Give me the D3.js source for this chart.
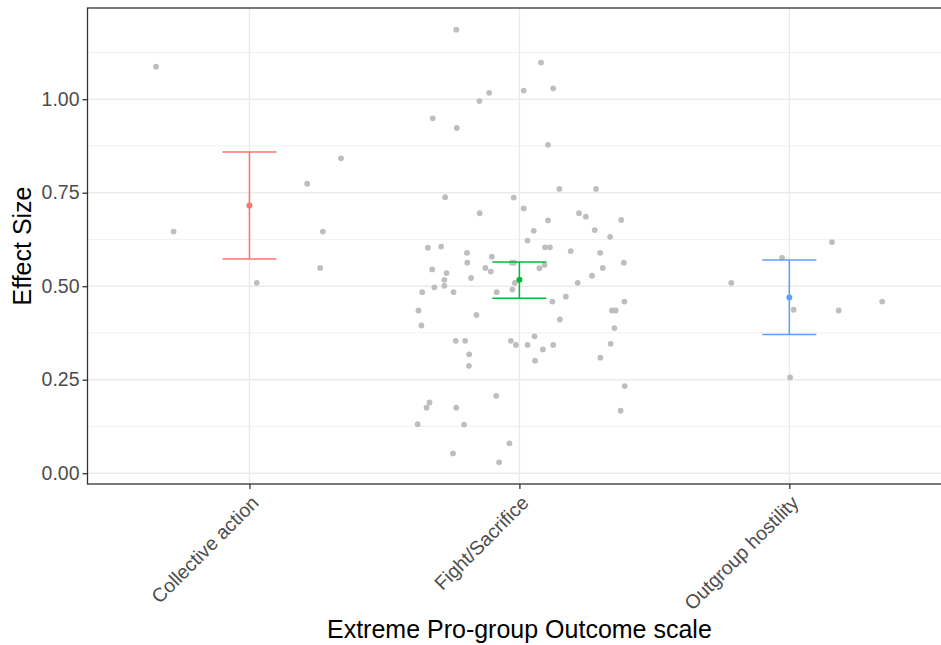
<!DOCTYPE html>
<html>
<head>
<meta charset="utf-8">
<script src="https://cdn.jsdelivr.net/npm/d3@7"></script>
<style>
  body { margin: 0; background: #fff; }
  svg { display: block; font-family: "Liberation Sans", Arial, sans-serif; }
</style>
</head>
<body>
<svg id="chart" width="941" height="645"></svg>
<script>
// categories and summary (mean + CI) per outcome scale
var categories = ["Collective action", "Fight/Sacrifice", "Outgroup hostility"];
var colors = ["#F8766D", "#00BA38", "#619CFF"];
var means = [0.716, 0.517, 0.470];
var lowers = [0.573, 0.468, 0.371];
var uppers = [0.859, 0.565, 0.570];

// raw effect sizes, with horizontal jitter (in category units)
var collectiveVals = [1.087, 0.842, 0.774, 0.646, 0.646, 0.549, 0.509];
var collectiveJit  = [-0.346, 0.339, 0.214, -0.281, 0.272, 0.262, 0.027];

var fightVals = [1.186, 1.098, 1.017, 0.995, 1.023, 1.029, 0.949, 0.923, 0.878,
  0.760, 0.760, 0.738, 0.737, 0.708, 0.695, 0.695, 0.686, 0.676, 0.677, 0.648,
  0.650, 0.632, 0.622, 0.603, 0.606, 0.604, 0.604, 0.589, 0.579, 0.594, 0.589,
  0.545, 0.535, 0.563, 0.549, 0.539, 0.563, 0.563, 0.548, 0.557, 0.549, 0.563,
  0.528, 0.509, 0.517, 0.501, 0.522, 0.497, 0.484, 0.484, 0.484, 0.509, 0.491,
  0.472, 0.459, 0.459, 0.435, 0.435, 0.435, 0.423, 0.411, 0.395, 0.388, 0.366,
  0.354, 0.354, 0.354, 0.343, 0.343, 0.343, 0.346, 0.331, 0.318, 0.309, 0.301,
  0.287, 0.233, 0.207, 0.189, 0.175, 0.175, 0.167, 0.131, 0.130, 0.080, 0.053, 0.029];
var fightJit = [-0.234, 0.080, -0.112, -0.148, 0.016, 0.125, -0.321, -0.232, 0.106,
  0.148, 0.284, -0.275, -0.021, 0.016, -0.147, 0.221, 0.246, 0.106, 0.377, 0.053,
  0.279, 0.336, 0.030, -0.339, -0.290, 0.095, 0.113, -0.194, -0.102, 0.190, 0.299,
  -0.323, -0.270, -0.193, -0.126, -0.106, -0.028, -0.020, 0.074, 0.093, 0.309, 0.387,
  0.269, 0.216, -0.278, -0.278, -0.179, -0.315, -0.360, -0.244, -0.084, -0.017, -0.026,
  0.172, 0.122, 0.389, -0.374, 0.343, 0.357, -0.159, 0.150, -0.363, 0.352, 0.056,
  -0.236, -0.201, -0.032, -0.013, 0.030, 0.125, 0.338, 0.087, -0.186, 0.300, 0.058,
  -0.187, 0.390, -0.086, -0.333, -0.344, -0.234, 0.375, -0.377, -0.205, -0.037, -0.246, -0.075];

var outgroupVals = [0.618, 0.576, 0.509, 0.437, 0.435, 0.459, 0.256];
var outgroupJit  = [0.158, -0.027, -0.215, 0.016, 0.183, 0.344, 0.003];

var yTicks = [0, 0.25, 0.5, 0.75, 1.0];
var yMinor = [0.125, 0.375, 0.625, 0.875, 1.125];

var points = [];
[[collectiveVals, collectiveJit], [fightVals, fightJit], [outgroupVals, outgroupJit]].forEach(function(s, i) {
  s[0].forEach(function(v, j) { points.push({cat: categories[i], v: v, jit: s[1][j]}); });
});
var summary = categories.map(function(c, i) {
  return {cat: c, mean: means[i], lo: lowers[i], hi: uppers[i], color: colors[i]};
});

var svg = d3.select("#chart");
var pLeft = 87.5, pTop = 8, pRight = 951.3, pBottom = 484;

var x = d3.scalePoint().domain(categories).range([pLeft, pRight]).padding(0.6);
var step = x.step();

// ggplot-like 5% expansion
var allV = points.map(function(d){ return d.v; }).concat(lowers, uppers);
var ymin = d3.min(allV), ymax = d3.max(allV), span = ymax - ymin;
var y = d3.scaleLinear().domain([ymin - 0.05 * span, ymax + 0.05 * span]).range([pBottom, pTop]);

var g = svg.append("g");

// grid
g.selectAll(".minor").data(yMinor).enter().append("line")
  .attr("x1", pLeft).attr("x2", pRight)
  .attr("y1", function(d){ return y(d); }).attr("y2", function(d){ return y(d); })
  .attr("stroke", "#EBEBEB").attr("stroke-width", 0.7);
g.selectAll(".major").data(yTicks).enter().append("line")
  .attr("x1", pLeft).attr("x2", pRight)
  .attr("y1", function(d){ return y(d); }).attr("y2", function(d){ return y(d); })
  .attr("stroke", "#EBEBEB").attr("stroke-width", 1.4);
g.selectAll(".vmajor").data(categories).enter().append("line")
  .attr("x1", function(d){ return x(d); }).attr("x2", function(d){ return x(d); })
  .attr("y1", pTop).attr("y2", pBottom)
  .attr("stroke", "#EBEBEB").attr("stroke-width", 1.4);

// jittered raw points
g.selectAll(".pt").data(points).enter().append("circle")
  .attr("cx", function(d){ return x(d.cat) + d.jit * step; })
  .attr("cy", function(d){ return y(d.v); })
  .attr("r", 2.9)
  .attr("fill", "#BEBEBE");

// error bars
var eb = g.selectAll(".eb").data(summary).enter().append("g");
eb.append("line")
  .attr("x1", function(d){ return x(d.cat); }).attr("x2", function(d){ return x(d.cat); })
  .attr("y1", function(d){ return y(d.lo); }).attr("y2", function(d){ return y(d.hi); })
  .attr("stroke", function(d){ return d.color; }).attr("stroke-width", 1.5);
["lo", "hi"].forEach(function(k) {
  eb.append("line")
    .attr("x1", function(d){ return x(d.cat) - 0.1 * step; })
    .attr("x2", function(d){ return x(d.cat) + 0.1 * step; })
    .attr("y1", function(d){ return y(d[k]); }).attr("y2", function(d){ return y(d[k]); })
    .attr("stroke", function(d){ return d.color; }).attr("stroke-width", 1.5);
});
eb.append("circle")
  .attr("cx", function(d){ return x(d.cat); })
  .attr("cy", function(d){ return y(d.mean); })
  .attr("r", 3)
  .attr("fill", function(d){ return d.color; });

// panel border
svg.append("rect")
  .attr("x", pLeft).attr("y", pTop)
  .attr("width", pRight - pLeft).attr("height", pBottom - pTop)
  .attr("fill", "none").attr("stroke", "#333333").attr("stroke-width", 1.3);

// axes
var yAxis = svg.append("g").attr("transform", "translate(" + pLeft + ",0)")
  .call(d3.axisLeft(y).tickValues(yTicks).tickFormat(d3.format(".2f")).tickSize(5).tickPadding(3));
var xAxis = svg.append("g").attr("transform", "translate(0," + pBottom + ")")
  .call(d3.axisBottom(x).tickSize(5).tickPadding(3));
[yAxis, xAxis].forEach(function(a) {
  a.select(".domain").remove();
  a.selectAll(".tick line").attr("stroke", "#333333").attr("stroke-width", 1.3);
  a.selectAll(".tick text").attr("fill", "#4D4D4D").style("font-size", "19.5px")
    .style("font-family", "'Liberation Sans', Arial, sans-serif");
});
xAxis.selectAll(".tick text")
  .attr("text-anchor", "end")
  .attr("dy", null).attr("y", null)
  .attr("transform", "translate(10,20) rotate(-45)");

// axis titles
svg.append("text")
  .attr("x", (pLeft + pRight) / 2).attr("y", 638)
  .attr("text-anchor", "middle")
  .style("font-size", "25px").attr("fill", "#000")
  .text("Extreme Pro-group Outcome scale");
svg.append("text")
  .attr("transform", "translate(31," + (pTop + pBottom) / 2 + ") rotate(-90)")
  .attr("text-anchor", "middle")
  .style("font-size", "25px").attr("fill", "#000")
  .text("Effect Size");
</script>
</body>
</html>
